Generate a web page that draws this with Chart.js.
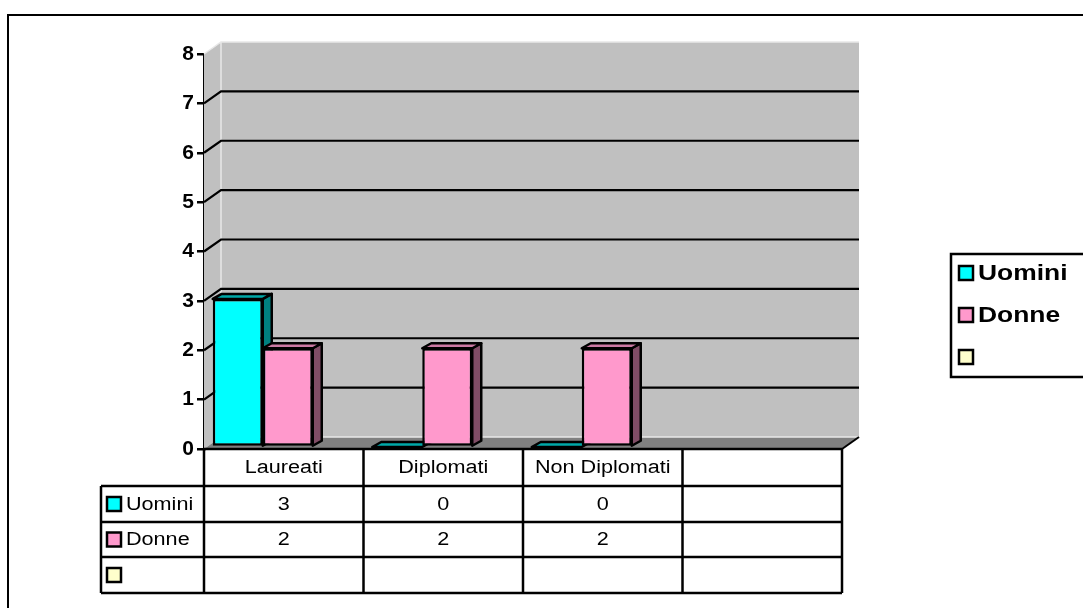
<!DOCTYPE html>
<html>
<head>
<meta charset="utf-8">
<script src="https://cdn.jsdelivr.net/npm/chart.js@4.4.1/dist/chart.umd.min.js"></script>
<style>
  html, body { margin: 0; padding: 0; background: #fff; }
  #wrap { width: 1083px; height: 608px; position: relative; }
</style>
</head>
<body>
<div id="wrap"><canvas id="chart"></canvas></div>
<script>
const categories = ['Laureati', 'Diplomati', 'Non Diplomati', ''];
const seriesNames = ['Uomini', 'Donne', ''];
const uomini = [3, 0, 0, null];
const donne = [2, 2, 2, null];
const yTicks = [0, 1, 2, 3, 4, 5, 6, 7, 8];

const frontColors = ['#00FFFF', '#FF99CC', '#FFFFCC'];
const topColors = ['#00A8A8', '#CC7AA3'];
const sideColors = ['#008080', '#804D66'];

const FONT = '"Liberation Sans", Arial, sans-serif';
const DX = 17, DY = -12;      // wall depth
const BX = 9, BY = -5;        // bar depth
const SHIFT_X = -21, SHIFT_Y = -2;
const STRETCH = 1.2;

function poly(ctx, pts) {
  ctx.beginPath();
  pts.forEach((p, i) => i ? ctx.lineTo(p[0], p[1]) : ctx.moveTo(p[0], p[1]));
  ctx.closePath();
}

function wideText(ctx, text, x, y, align) {
  ctx.save();
  ctx.translate(x, y);
  ctx.scale(STRETCH, 1);
  ctx.textAlign = align;
  ctx.textBaseline = 'middle';
  ctx.fillText(text, 0, 0);
  ctx.restore();
}

function marker(ctx, x, cy, color) {
  ctx.fillStyle = color;
  ctx.fillRect(x, cy - 7, 14, 14);
  ctx.strokeStyle = '#000';
  ctx.lineWidth = 2.5;
  ctx.strokeRect(x, cy - 7, 14, 14);
}

const scene = {
  id: 'scene',
  beforeDatasetsDraw(chart) {
    const { ctx, chartArea: a } = chart;
    const y = chart.scales.y;
    ctx.save();
    // side wall + back wall
    ctx.fillStyle = '#C0C0C0';
    poly(ctx, [[a.left, a.top], [a.left + DX, a.top + DY], [a.left + DX, a.bottom + DY], [a.left, a.bottom]]);
    ctx.fill();
    ctx.fillRect(a.left + DX, a.top + DY, a.right - a.left, a.bottom - a.top);
    // floor
    ctx.fillStyle = '#808080';
    poly(ctx, [[a.left, a.bottom], [a.left + DX, a.bottom + DY], [a.right + DX, a.bottom + DY], [a.right, a.bottom]]);
    ctx.fill();
    // light edges of the walls
    ctx.strokeStyle = '#E8E8E8';
    ctx.lineWidth = 1.5;
    ctx.beginPath();
    ctx.moveTo(a.left, a.top);
    ctx.lineTo(a.left + DX, a.top + DY);
    ctx.lineTo(a.right + DX, a.top + DY);
    ctx.moveTo(a.left + DX, a.top + DY);
    ctx.lineTo(a.left + DX, a.bottom + DY);
    ctx.lineTo(a.right + DX, a.bottom + DY);
    ctx.stroke();
    // floor right edge
    ctx.strokeStyle = '#000';
    ctx.lineWidth = 2;
    ctx.beginPath();
    ctx.moveTo(a.right, a.bottom);
    ctx.lineTo(a.right + DX, a.bottom + DY);
    ctx.stroke();
    // grid lines on the walls
    ctx.lineWidth = 2.2;
    y.ticks.forEach(t => {
      if (t.value === y.min || t.value === y.max) return;
      const py = y.getPixelForValue(t.value);
      ctx.beginPath();
      ctx.moveTo(a.left, py);
      ctx.lineTo(a.left + DX, py + DY);
      ctx.lineTo(a.right + DX, py + DY);
      ctx.stroke();
    });

    // 3D bars, category by category so faces overlap like the original
    ctx.translate(SHIFT_X, SHIFT_Y);
    ctx.lineJoin = 'round';
    const metas = chart.getSortedVisibleDatasetMetas();
    categories.forEach((c, i) => {
      metas.forEach(meta => {
        const v = chart.data.datasets[meta.index].data[i];
        if (v == null) return;
        const el = meta.data[i];
        const { x, y: top, base, width } = el.getProps(['x', 'y', 'base', 'width'], true);
        const x0 = x - width / 2, x1 = x + width / 2;
        if (v > 0) el.draw(ctx);
        ctx.strokeStyle = '#000';
        ctx.lineWidth = 2.5;
        if (v > 0) {
          ctx.fillStyle = sideColors[meta.index];
          poly(ctx, [[x1, top], [x1 + BX, top + BY], [x1 + BX, base + BY], [x1, base]]);
          ctx.fill(); ctx.stroke();
        }
        ctx.fillStyle = topColors[meta.index];
        poly(ctx, [[x0, top], [x0 + BX, top + BY], [x1 + BX, top + BY], [x1, top]]);
        ctx.fill(); ctx.stroke();
      });
    });
    ctx.restore();
    return false;
  },
  afterDraw(chart) {
    const { ctx, chartArea: a } = chart;
    const xs = chart.scales.x;
    const cw = (xs.right - xs.left) / categories.length;
    const labelLeft = 101;
    const top = a.bottom;
    const rows = [top, top + 37, top + 73, top + 108, top + 144];
    ctx.save();
    ctx.strokeStyle = '#000';
    ctx.lineWidth = 2.5;
    ctx.beginPath();
    ctx.moveTo(xs.left, rows[0]); ctx.lineTo(xs.right, rows[0]);
    for (let r = 1; r < rows.length; r++) { ctx.moveTo(labelLeft, rows[r]); ctx.lineTo(xs.right, rows[r]); }
    ctx.moveTo(labelLeft, rows[1]); ctx.lineTo(labelLeft, rows[4]);
    for (let k = 0; k <= categories.length; k++) {
      const px = xs.left + k * cw;
      ctx.moveTo(px, rows[0]); ctx.lineTo(px, rows[4]);
    }
    ctx.stroke();

    ctx.fillStyle = '#000';
    ctx.font = '18px ' + FONT;
    categories.forEach((c, i) => {
      const cx = xs.getPixelForValue(i);
      wideText(ctx, c, cx, (rows[0] + rows[1]) / 2 + 1, 'center');
    });
    const tableSeries = [uomini, donne, [null, null, null, null]];
    seriesNames.forEach((name, r) => {
      const cy = (rows[r + 1] + rows[r + 2]) / 2;
      marker(ctx, labelLeft + 6, cy, frontColors[r]);
      ctx.fillStyle = '#000';
      ctx.font = '18px ' + FONT;
      wideText(ctx, name, labelLeft + 25, cy + 1, 'left');
      tableSeries[r].forEach((v, i) => {
        if (v == null) return;
        wideText(ctx, String(v), xs.getPixelForValue(i), cy + 1, 'center');
      });
    });

    // legend box
    const lx = 951, ly = 254;
    ctx.strokeStyle = '#000';
    ctx.lineWidth = 2.5;
    ctx.strokeRect(lx, ly, 200, 123);
    seriesNames.forEach((name, r) => {
      const cy = ly + 19 + r * 42;
      marker(ctx, lx + 8, cy, frontColors[r]);
      ctx.fillStyle = '#000';
      ctx.font = 'bold 22px ' + FONT;
      wideText(ctx, name, lx + 27, cy + 1, 'left');
    });

    // outer frame
    ctx.strokeStyle = '#000';
    ctx.lineWidth = 2;
    ctx.strokeRect(8, 15, 1200, 800);
    ctx.restore();
  }
};

new Chart(document.getElementById('chart'), {
  type: 'bar',
  data: {
    labels: categories,
    datasets: [
      { label: seriesNames[0], data: uomini, backgroundColor: frontColors[0] },
      { label: seriesNames[1], data: donne, backgroundColor: frontColors[1] }
    ]
  },
  options: {
    responsive: true,
    maintainAspectRatio: false,
    animation: false,
    events: [],
    layout: { padding: { left: 160, top: 54, right: 241, bottom: 159 } },
    datasets: {
      bar: {
        borderColor: '#000',
        borderWidth: 2.5,
        borderSkipped: false,
        categoryPercentage: 0.627,
        barPercentage: 1
      }
    },
    scales: {
      x: {
        ticks: { display: false },
        grid: { display: false, drawTicks: false },
        border: { display: false },
        afterFit(s) { s.height = 0; }
      },
      y: {
        min: yTicks[0],
        max: yTicks[yTicks.length - 1],
        afterFit(s) { s.width = 44; },
        afterBuildTicks(s) { s.ticks = yTicks.map(v => ({ value: v })); },
        ticks: {
          color: '#000',
          padding: 3,
          font: { family: FONT, size: 21, weight: 'bold' }
        },
        grid: { drawOnChartArea: false, color: '#000', lineWidth: 2.5, tickLength: 7 },
        border: { color: '#000', width: 2.5 }
      }
    },
    plugins: { legend: { display: false }, tooltip: { enabled: false } }
  },
  plugins: [scene]
});
</script>
</body>
</html>
